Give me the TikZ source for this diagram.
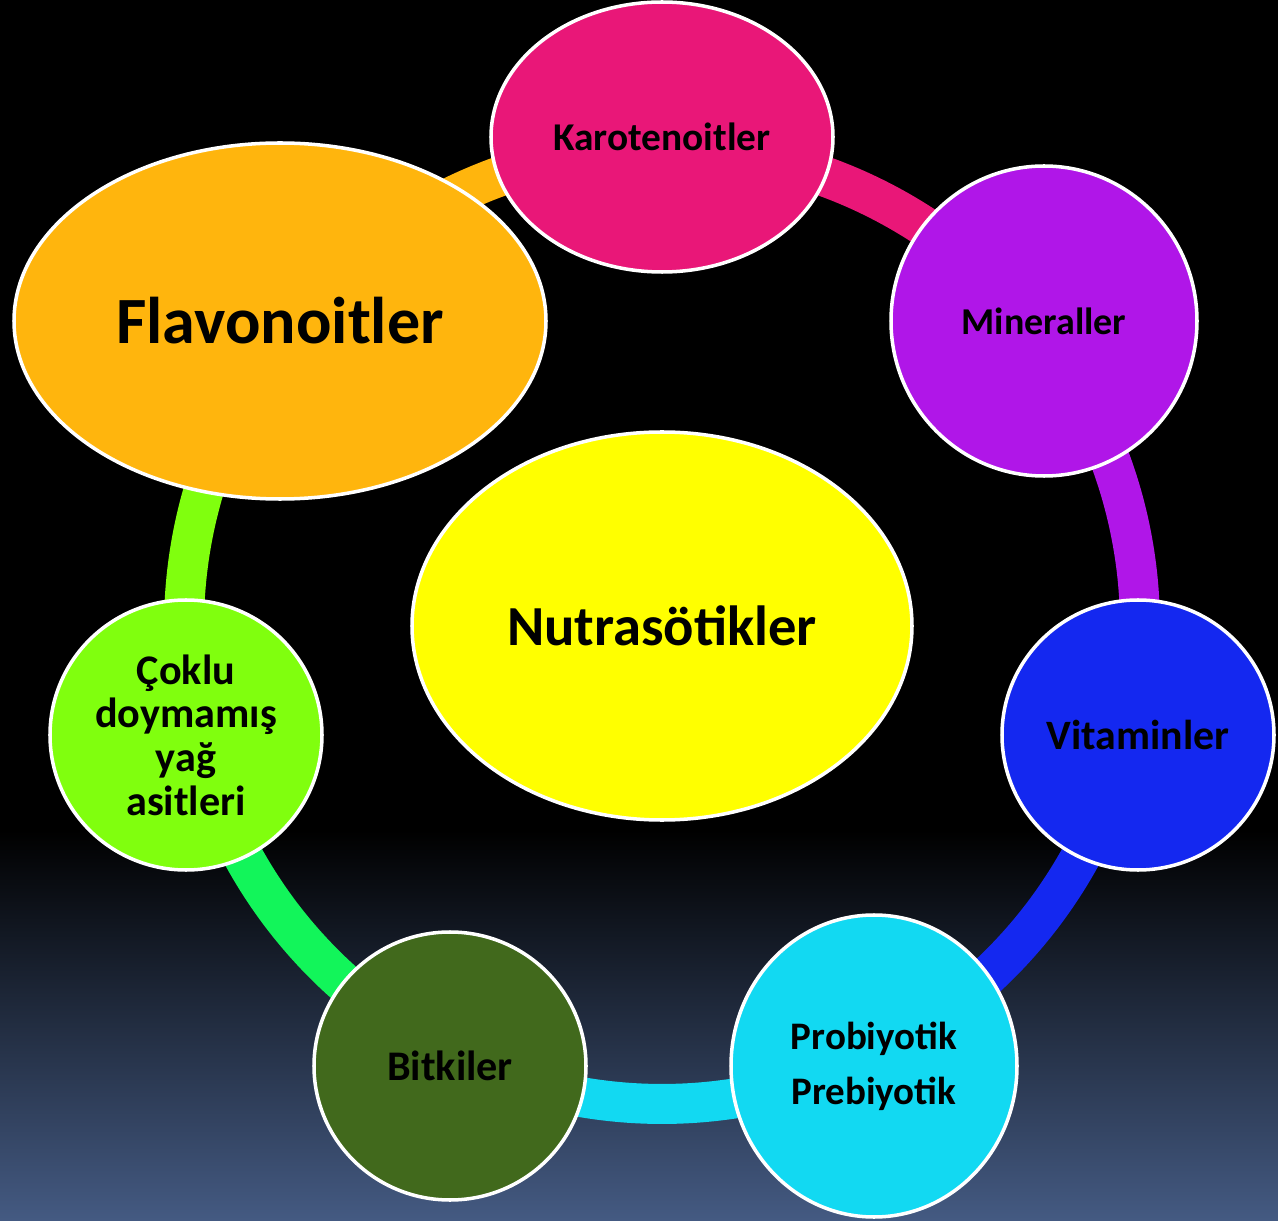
\documentclass[tikz,border=0pt]{standalone}
\usepackage{fontspec}
\setmainfont{Carlito}
\usetikzlibrary{shapes.geometric}
\definecolor{karpink}{HTML}{E91778}
\definecolor{minpurple}{HTML}{B016E8}
\definecolor{vitblue}{HTML}{1428F0}
\definecolor{procyan}{HTML}{12D9F2}
\definecolor{bitgreen}{HTML}{41691C}
\definecolor{arcgreen}{HTML}{12F55A}
\definecolor{coklime}{HTML}{80FF0E}
\definecolor{flaorange}{HTML}{FFB50D}
\definecolor{nutyellow}{HTML}{FFFF00}
\definecolor{bgblue}{HTML}{445A82}

\begin{document}
\begin{tikzpicture}[
    bub/.style={ellipse, draw=white, line width=1pt, inner sep=0pt, align=center,
      font=\bfseries\fontsize{11.2}{12.5}\selectfont},
    ring/.style={line width=0.4cm}
  ]
  % background
  \fill[black] (0,0) rectangle (12.78,12.2);
  \shade[top color=black, bottom color=bgblue] (0,0) rectangle (12.78,3.9);
  \useasboundingbox (0,0) rectangle (12.78,12.2);

  \coordinate (ctr) at (6.62,5.94);

  % ring segments
  \draw[ring, karpink]   (ctr) ++(90:4.78)      arc[start angle=90,      delta angle=-51.43, radius=4.78];
  \draw[ring, minpurple] (ctr) ++(38.57:4.78)   arc[start angle=38.57,   delta angle=-51.43, radius=4.78];
  \draw[ring, vitblue]   (ctr) ++(-12.86:4.78)  arc[start angle=-12.86,  delta angle=-51.43, radius=4.78];
  \draw[ring, procyan]   (ctr) ++(-64.29:4.78)  arc[start angle=-64.29,  delta angle=-51.43, radius=4.78];
  \draw[ring, arcgreen]  (ctr) ++(-115.71:4.78) arc[start angle=-115.71, delta angle=-51.43, radius=4.78];
  \draw[ring, coklime]   (ctr) ++(-167.14:4.78) arc[start angle=-167.14, delta angle=-51.43, radius=4.78];
  \draw[ring, flaorange] (ctr) ++(141.43:4.78)  arc[start angle=141.43,  delta angle=-51.43, radius=4.78];

  % nodes
  \node[bub, fill=nutyellow, minimum width=5cm, minimum height=3.88cm,
    font=\bfseries\fontsize{16.1}{18}\selectfont] (nut) at (ctr) {Nutrasötikler};
  \node[bub, fill=karpink, minimum width=3.42cm, minimum height=2.7cm] (kar) at (6.62,10.83) {Karotenoitler};
  \node[bub, fill=minpurple, minimum width=3.06cm, minimum height=3.1cm,
    font=\bfseries\fontsize{10.8}{12.5}\selectfont] (min) at (10.44,8.99) {Mineraller};
  \node[bub, fill=vitblue, minimum width=2.72cm, minimum height=2.7cm,
    font=\bfseries\fontsize{11.9}{12.5}\selectfont] (vit) at (11.38,4.85) {Vitaminler};
  \node[bub, fill=procyan, minimum width=2.86cm, minimum height=3.02cm,
    font=\bfseries\fontsize{11.1}{15.6}\selectfont] (pro) at (8.74,1.54) {Probiyotik\\Prebiyotik};
  \node[bub, fill=bitgreen, minimum width=2.72cm, minimum height=2.68cm,
    font=\bfseries\fontsize{12}{12.5}\selectfont] (bit) at (4.50,1.54) {Bitkiler};
  \node[bub, fill=coklime, minimum width=2.72cm, minimum height=2.7cm,
    font=\bfseries\fontsize{12}{12.4}\selectfont] (cok) at (1.86,4.85) {Çoklu\\doymamış\\yağ\\asitleri};
  \node[bub, fill=flaorange, minimum width=5.32cm, minimum height=3.56cm,
    font=\bfseries\fontsize{18.8}{20}\selectfont] (fla) at (2.80,8.99) {Flavonoitler};
\end{tikzpicture}
\end{document}
